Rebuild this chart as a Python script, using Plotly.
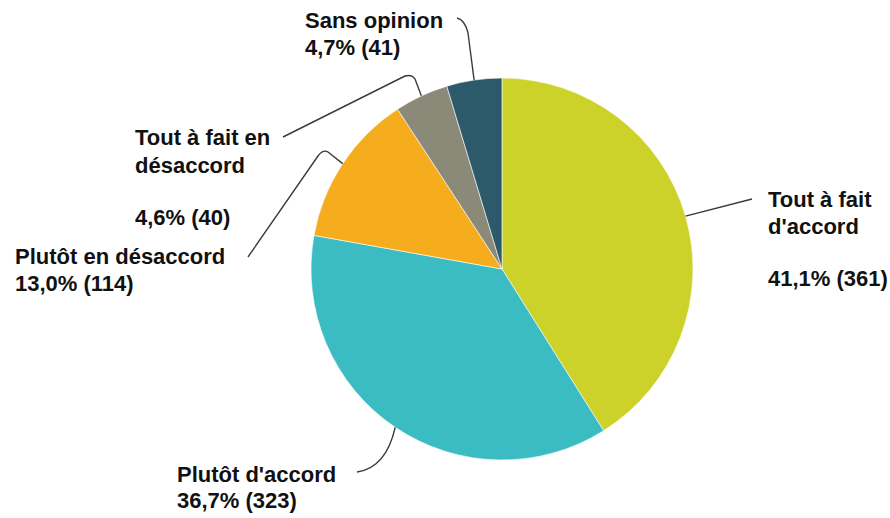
import numpy as np
import plotly.graph_objects as go

# Survey answers, drawn clockwise from 12 o'clock
categories = ["Tout à fait d'accord", "Plutôt d'accord", "Plutôt en désaccord",
              "Tout à fait en désaccord", "Sans opinion"]
counts = [361, 323, 114, 40, 41]
percent_labels = ["41,1%", "36,7%", "13,0%", "4,6%", "4,7%"]
colors = ["#cdd22a", "#3bbcc3", "#f5ad1e", "#8b8978", "#2c5a6b"]

W, H = 890, 518
CX, CY, R = 502, 269, 191  # pie centre and radius in pixels (y downward)

fig = go.Figure()
fig.add_trace(go.Pie(
    labels=categories, values=counts, sort=False, direction="clockwise",
    rotation=0, textinfo="none", hoverinfo="skip", showlegend=False,
    marker=dict(colors=colors, line=dict(color="rgba(255,255,255,0.6)", width=1)),
    domain=dict(x=[(CX - R) / W, (CX + R) / W],
                y=[(H - CY - R) / H, (H - CY + R) / H]),
))

# Edge point at the middle of each slice
vals = np.array(counts, dtype=float)
cum = np.cumsum(vals) - vals / 2
ang = 2 * np.pi * cum / vals.sum()
ax = CX + R * np.sin(ang)
ay = CY - R * np.cos(ang)

line_style = dict(color="#3a3a3a", width=1.4)
paths = [
    f"M{ax[0]},{ay[0]} L752,199",
    f"M{ax[1]},{ay[1]} Q386,468 357,472",
    f"M{ax[2]},{ay[2]} L328,152 Q323,149 318,156 L248,257",
    f"M{ax[3]},{ay[3]} L415,79 Q412,74 405,76 L283,137",
    f"M{ax[4]},{ay[4]} L468,33 Q465,20 457,18",
]
shapes = [dict(type="path", path=p, xref="x", yref="y", line=line_style) for p in paths]

# Label lines: (x, y-centre, text)
def lab(i):
    return f"{percent_labels[i]} ({counts[i]})"

label_lines = [
    (766, 199, "Tout à fait"), (766, 226, "d'accord"), (766, 278, lab(0)),
    (175, 474, "Plutôt d'accord"), (175, 500, lab(1)),
    (13, 256, "Plutôt en désaccord"), (13, 283, lab(2)),
    (133, 137, "Tout à fait en"), (133, 165, "désaccord"), (133, 217, lab(3)),
    (303, 20, "Sans opinion"), (303, 47, lab(4)),
]
annotations = [
    dict(x=x, y=y, xref="x", yref="y", text=f"<b>{t}</b>", showarrow=False,
         xanchor="left", yanchor="middle",
         font=dict(family="Liberation Sans, Arial, sans-serif", size=22, color="#111111"))
    for x, y, t in label_lines
]

fig.update_layout(
    width=W, height=H, margin=dict(l=0, r=0, t=0, b=0),
    paper_bgcolor="white", plot_bgcolor="rgba(0,0,0,0)",
    xaxis=dict(range=[0, W], visible=False, fixedrange=True),
    yaxis=dict(range=[H, 0], visible=False, fixedrange=True),
    shapes=shapes, annotations=annotations,
)

fig.write_html("out.html")
